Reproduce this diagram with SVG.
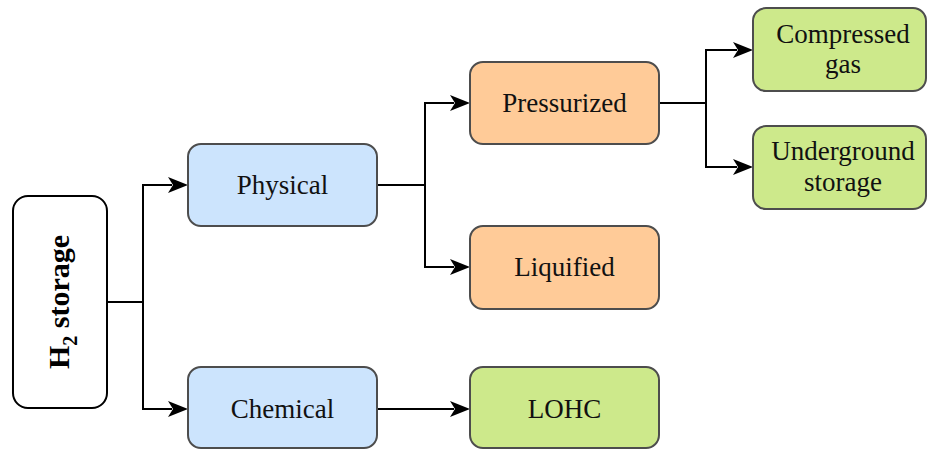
<svg xmlns="http://www.w3.org/2000/svg" width="928" height="449" viewBox="0 0 928 449">
<style>
.box{stroke:#4d4d4d;stroke-width:2}
.blue{fill:#cce4fd}
.orange{fill:#ffcb98}
.green{fill:#cde98b}
.white{fill:#ffffff;stroke:#000;stroke-width:2}
.t{font-family:'Liberation Serif',serif;font-size:27px;fill:#111;text-anchor:middle}
.c{fill:none;stroke:#000;stroke-width:2}
.ah{fill:#000}
</style>
<rect width="928" height="449" fill="#fff"/>
<g id="connectors">
<path class="c" d="M107,302 H143 V185 H172"/>
<path class="c" d="M143,302 V409 H172"/>
<path class="c" d="M377,185 H425 V103 H454"/>
<path class="c" d="M425,185 V267 H454"/>
<path class="c" d="M659,103 H706 V50 H737"/>
<path class="c" d="M706,103 V167 H737"/>
<path class="c" d="M377,409 H454"/>
<path class="ah" d="M168,177 L188,185 L168,193 L173,185 Z"/>
<path class="ah" d="M168,401 L188,409 L168,417 L173,409 Z"/>
<path class="ah" d="M450,95 L470,103 L450,111 L455,103 Z"/>
<path class="ah" d="M450,259 L470,267 L450,275 L455,267 Z"/>
<path class="ah" d="M450,401 L470,409 L450,417 L455,409 Z"/>
<path class="ah" d="M733,42 L753,50 L733,58 L738,50 Z"/>
<path class="ah" d="M733,159 L753,167 L733,175 L738,167 Z"/>
</g>
<g id="h2storage">
<rect class="white" x="13" y="196" width="94" height="212" rx="15"/>
<text transform="translate(69,302) rotate(-90)" style="font-family:'Liberation Serif',serif" font-size="30" font-weight="bold" text-anchor="middle" fill="#000">H<tspan font-size="20" dy="8">2</tspan><tspan dy="-8"> storage</tspan></text>
</g>
<g id="physical">
<rect class="box blue" x="188" y="144" width="189" height="82" rx="13"/>
<text class="t" x="282.5" y="194">Physical</text>
</g>
<g id="chemical">
<rect class="box blue" x="188" y="367" width="189" height="81" rx="13"/>
<text class="t" x="282.5" y="418">Chemical</text>
</g>
<g id="pressurized">
<rect class="box orange" x="470" y="62" width="189" height="82" rx="13"/>
<text class="t" x="564.5" y="112">Pressurized</text>
</g>
<g id="liquified">
<rect class="box orange" x="470" y="226" width="189" height="83" rx="13"/>
<text class="t" x="564.5" y="276">Liquified</text>
</g>
<g id="lohc">
<rect class="box green" x="470" y="367" width="189" height="81" rx="13"/>
<text class="t" x="564.5" y="418">LOHC</text>
</g>
<g id="compressed">
<rect class="box green" x="753" y="8" width="173" height="83" rx="13"/>
<text class="t" x="843" y="43">Compressed</text>
<text class="t" x="843" y="73">gas</text>
</g>
<g id="underground">
<rect class="box green" x="753" y="126" width="173" height="83" rx="13"/>
<text class="t" x="843" y="160">Underground</text>
<text class="t" x="843" y="191">storage</text>
</g>
</svg>
